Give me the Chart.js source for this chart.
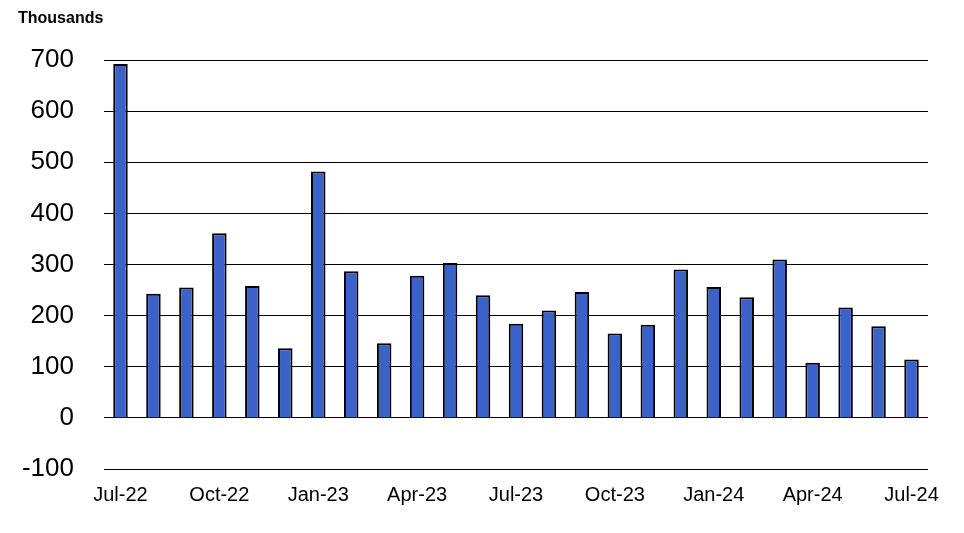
<!DOCTYPE html>
<html><head><meta charset="utf-8">
<script src="https://cdn.jsdelivr.net/npm/chart.js@4"></script>
<style>html,body{margin:0;padding:0;background:#fff}#w{width:964px;height:533px}</style>
</head><body><div id="w"><canvas id="c"></canvas></div>
<script>
const months = ["Jul-22","Aug-22","Sep-22","Oct-22","Nov-22","Dec-22","Jan-23","Feb-23","Mar-23","Apr-23","May-23","Jun-23","Jul-23","Aug-23","Sep-23","Oct-23","Nov-23","Dec-23","Jan-24","Feb-24","Mar-24","Apr-24","May-24","Jun-24","Jul-24"];
const values = [692,243,255,361,258,136,482,287,146,278,303,240,184,210,246,165,182,290,256,236,310,108,216,179,114];
const yTicks = [-100,0,100,200,300,400,500,600,700];
const titlePlugin = { id: 'tt', afterDraw(ch) {
  const c = ch.ctx; c.save(); c.fillStyle = '#000'; c.font = 'bold 16px "Liberation Sans", Arial';
  c.textBaseline = 'middle'; c.fillText('Thousands', 18, 19); c.restore(); } };
new Chart(document.getElementById('c'), {
  type: 'bar',
  data: { labels: months, datasets: [{ data: values, backgroundColor: '#3A62C8', borderColor: '#000', borderWidth: 2, barPercentage: 0.44, categoryPercentage: 1 }] },
  options: {
    responsive: true, maintainAspectRatio: false, animation: false,
    layout: { padding: { top: 60, right: 36, left: 0, bottom: 12 } },
    plugins: { legend: { display: false }, tooltip: { enabled: false } },
    scales: {
      x: {
        grid: { display: false, drawTicks: false },
        border: { display: false },
        ticks: { autoSkip: false, maxRotation: 0, color: '#000', padding: 14,
          font: { family: 'Liberation Sans, Arial', size: 20 },
          callback: (v, i) => i % 3 === 0 ? months[i] : '' }
      },
      y: {
        min: -100, max: 700,
        afterBuildTicks: ax => { ax.ticks = yTicks.map(v => ({ value: v })); },
        afterFit: ax => { ax.width = 104; },
        grid: { color: '#000', lineWidth: 1, drawTicks: false },
        border: { display: false },
        ticks: { color: '#000', padding: 30, font: { family: 'Liberation Sans, Arial', size: 26 } }
      }
    }
  },
  plugins: [titlePlugin]
});
</script></body></html>
